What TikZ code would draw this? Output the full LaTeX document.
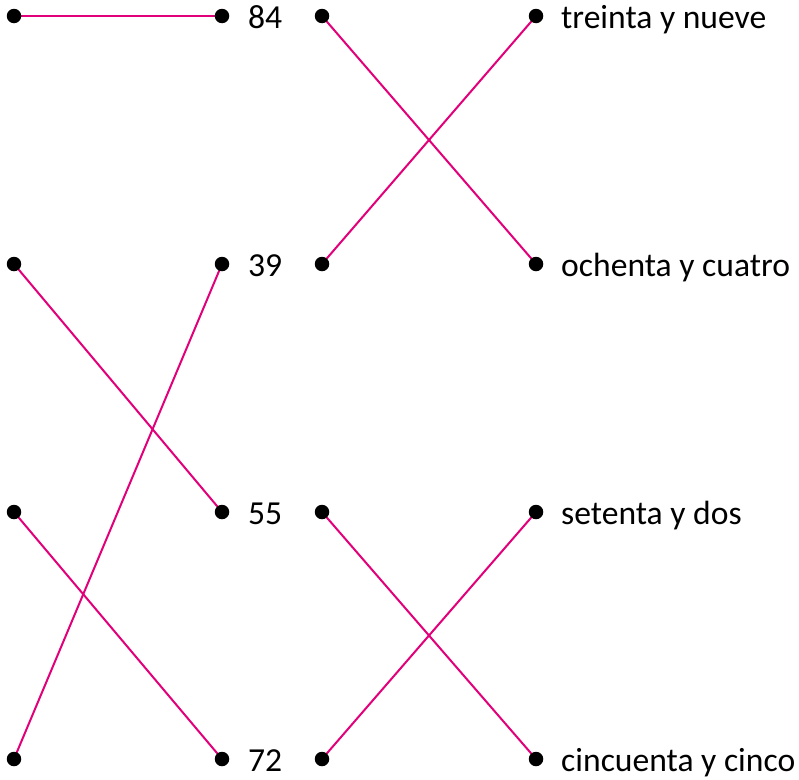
\documentclass[tikz,border=0pt]{standalone}
\usepackage{fontspec}
\setmainfont{Carlito}
\definecolor{linkmag}{HTML}{E2007A}
\begin{document}
\begin{tikzpicture}[x=1pt,y=-1pt,
  dotnode/.style={circle,fill=black,minimum size=14.5pt,inner sep=0pt},
  link/.style={draw=linkmag,line width=2pt},
  lbl/.style={anchor=base west,inner sep=0pt,font=\fontsize{33.6}{36}\selectfont}]
\useasboundingbox (0,0) rectangle (799,779);
\foreach \n/\y in {1/16,2/264,3/512,4/759}{
  \coordinate (a\n) at (14,\y);
  \coordinate (b\n) at (222,\y);
  \coordinate (c\n) at (322,\y);
  \coordinate (d\n) at (536,\y);
}
\node[lbl] (t1) at (248,28.5) {84};
\node[lbl] (t2) at (248,276.5) {39};
\node[lbl] (t3) at (248,524.5) {55};
\node[lbl] (t4) at (248,771.5) {72};
\node[lbl] (s1) at (561,28.5) {treinta y nueve};
\node[lbl] (s2) at (561,276.5) {ochenta y cuatro};
\node[lbl] (s3) at (561,524.5) {setenta y dos};
\node[lbl] (s4) at (561,771.5) {cincuenta y cinco};
\draw[link] (a1) -- (b1);
\draw[link] (a2) -- (b3);
\draw[link] (a3) -- (b4);
\draw[link] (a4) -- (b2);
\draw[link] (c1) -- (d2);
\draw[link] (c2) -- (d1);
\draw[link] (c3) -- (d4);
\draw[link] (c4) -- (d3);
\foreach \n in {1,2,3,4}{
  \node[dotnode] (da\n) at (a\n) {};
  \node[dotnode] (db\n) at (b\n) {};
  \node[dotnode] (dc\n) at (c\n) {};
  \node[dotnode] (dd\n) at (d\n) {};
}
\end{tikzpicture}
\end{document}
